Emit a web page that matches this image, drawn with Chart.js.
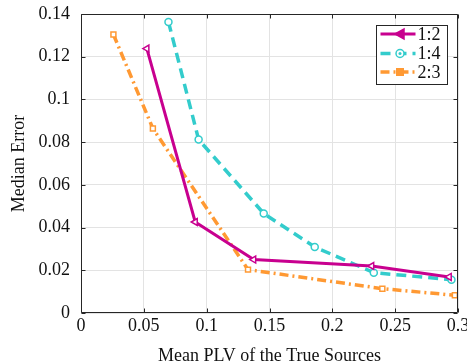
<!DOCTYPE html>
<html>
<head>
<meta charset="utf-8">
<script src="https://cdn.jsdelivr.net/npm/chart.js@4"></script>
<style>
  html, body { margin: 0; padding: 0; background: #ffffff; }
  #wrap { width: 467px; height: 364px; }
</style>
</head>
<body>
<div id="wrap"><canvas id="c" width="467" height="364"></canvas></div>
<script>
// ---- data ----
const seriesNames = ["1:2", "1:4", "2:3"];
const ratio12X = [0.0524, 0.0909, 0.1374, 0.2313, 0.2930];
const ratio12Y = [0.1238, 0.0426, 0.0250, 0.0220, 0.0169];
const ratio14X = [0.0696, 0.0936, 0.1454, 0.1860, 0.2330, 0.2948];
const ratio14Y = [0.1363, 0.0812, 0.0466, 0.0309, 0.0189, 0.0156];
const ratio23X = [0.0258, 0.0572, 0.1329, 0.2398, 0.2975];
const ratio23Y = [0.1304, 0.0864, 0.0203, 0.0114, 0.0083];
const xTickValues = [0, 0.05, 0.1, 0.15, 0.2, 0.25, 0.3];
const xTickLabels = ["0", "0.05", "0.1", "0.15", "0.2", "0.25", "0.3"];
const yTickValues = [0, 0.02, 0.04, 0.06, 0.08, 0.1, 0.12, 0.14];
const yTickLabels = ["0", "0.02", "0.04", "0.06", "0.08", "0.1", "0.12", "0.14"];
const xTitle = "Mean PLV of the True Sources";
const yTitle = "Median Error";

const COL12 = "#C8008F";
const COL14 = "#33CCCC";
const COL23 = "#FF9933";
const AXIS = "#262626";
const GRID = "#e3e3e3";
const FONT = "'Liberation Serif', 'Times New Roman', serif";

function pts(xs, ys) { return xs.map((x, i) => ({ x: x, y: ys[i] })); }

const styles = [
  { color: COL12, dash: [], point: 'triangle', rot: -90, width: 3 },
  { color: COL14, dash: [10, 6], point: 'circle', rot: 0, width: 3.5 },
  { color: COL23, dash: [9, 4, 2, 4], point: 'rect', rot: 0, width: 3.5 }
];

const frameAndLegend = {
  id: 'frameAndLegend',
  afterDraw(chart) {
    const ctx = chart.ctx;
    const a = chart.chartArea;
    const xs = chart.scales.x, ys = chart.scales.y;
    ctx.save();
    ctx.strokeStyle = AXIS;
    ctx.lineWidth = 1;
    const L = Math.round(a.left) + 0.5, R = Math.round(a.right) - 0.5;
    const T = Math.round(a.top) + 0.5, B = Math.round(a.bottom) - 0.5;
    ctx.beginPath();
    ctx.rect(L, T, R - L, B - T);
    ctx.stroke();
    const tl = 4;
    ctx.beginPath();
    xTickValues.forEach(v => {
      const px = Math.round(xs.getPixelForValue(v)) + 0.5;
      ctx.moveTo(px, B); ctx.lineTo(px, B - tl);
      ctx.moveTo(px, T); ctx.lineTo(px, T + tl);
    });
    yTickValues.forEach(v => {
      const py = Math.round(ys.getPixelForValue(v)) + 0.5;
      ctx.moveTo(L, py); ctx.lineTo(L + tl, py);
      ctx.moveTo(R, py); ctx.lineTo(R - tl, py);
    });
    ctx.stroke();

    // legend
    const bx = Math.round(a.right) - 82 + 0.5, by = Math.round(a.top) + 11 + 0.5;
    const bw = 71, bh = 59;
    ctx.fillStyle = '#ffffff';
    ctx.fillRect(bx, by, bw, bh);
    ctx.strokeStyle = AXIS;
    ctx.lineWidth = 1;
    ctx.strokeRect(bx, by, bw, bh);
    const rowY = [by + 8.5, by + 28, by + 46.5];
    chart.data.datasets.forEach((ds, i) => {
      const st = styles[i];
      const y0 = rowY[i];
      const x1 = bx + 4, x2 = bx + 39, xm = (x1 + x2) / 2 + 2;
      ctx.save();
      ctx.strokeStyle = st.color;
      ctx.lineWidth = st.width;
      ctx.setLineDash(st.dash);
      ctx.beginPath();
      ctx.moveTo(x1, y0); ctx.lineTo(x2, y0);
      ctx.stroke();
      ctx.restore();
      ctx.save();
      ctx.strokeStyle = st.color;
      ctx.fillStyle = st.color;
      ctx.lineWidth = 1.5;
      if (st.point === 'triangle') {
        ctx.beginPath();
        ctx.moveTo(xm - 5, y0); ctx.lineTo(xm + 4, y0 - 5); ctx.lineTo(xm + 4, y0 + 5); ctx.closePath();
        ctx.fill(); ctx.stroke();
      } else if (st.point === 'circle') {
        ctx.beginPath(); ctx.arc(xm, y0, 4, 0, Math.PI * 2);
        ctx.fillStyle = '#ffffff'; ctx.fill(); ctx.stroke();
        ctx.beginPath(); ctx.arc(xm, y0, 1.5, 0, Math.PI * 2); ctx.fillStyle = st.color; ctx.fill();
      } else {
        ctx.fillRect(xm - 4, y0 - 4, 8, 8);
      }
      ctx.restore();
      ctx.fillStyle = '#111111';
      ctx.font = "18px " + FONT;
      ctx.textAlign = 'left';
      ctx.textBaseline = 'middle';
      ctx.fillText(ds.label, bx + 41, y0 + 1);
    });
    ctx.restore();
  }
};

const datasets = [
  { label: seriesNames[0], data: pts(ratio12X, ratio12Y) },
  { label: seriesNames[1], data: pts(ratio14X, ratio14Y) },
  { label: seriesNames[2], data: pts(ratio23X, ratio23Y) }
].map((d, i) => Object.assign(d, {
  showLine: true,
  borderColor: styles[i].color,
  borderWidth: styles[i].width,
  borderDash: styles[i].dash,
  pointStyle: styles[i].point,
  rotation: styles[i].rot,
  pointRadius: styles[i].point === 'triangle' ? 4 : 3.5,
  pointBackgroundColor: '#ffffff',
  pointBorderColor: styles[i].color,
  pointBorderWidth: 1.5,
  tension: 0,
  fill: false
}));

new Chart(document.getElementById('c'), {
  type: 'scatter',
  data: { datasets: datasets },
  options: {
    responsive: false,
    animation: false,
    devicePixelRatio: 1,
    layout: { padding: { top: 14, right: 9, left: 0, bottom: 0 } },
    plugins: { legend: { display: false }, tooltip: { enabled: false } },
    scales: {
      x: {
        type: 'linear', min: 0, max: 0.3,
        afterBuildTicks: s => { s.ticks = xTickValues.map(v => ({ value: v })); },
        afterFit: s => { s.height = 51; s.paddingLeft = 0; s.paddingRight = 0; },
        ticks: {
          callback: (v, i) => xTickLabels[i],
          font: { family: FONT, size: 18 }, color: '#111111', padding: 2, maxRotation: 0, autoSkip: false
        },
        grid: { color: GRID, lineWidth: 1, drawTicks: false },
        border: { display: false },
        title: { display: true, text: xTitle, font: { family: FONT, size: 18, lineHeight: 1 }, color: '#111111', padding: { top: 0, bottom: -1 } }
      },
      y: {
        type: 'linear', min: 0, max: 0.14,
        afterBuildTicks: s => { s.ticks = yTickValues.map(v => ({ value: v })); },
        afterFit: s => { s.width = 81; s.paddingTop = 0; s.paddingBottom = 0; },
        ticks: {
          callback: (v, i) => yTickLabels[i],
          font: { family: FONT, size: 18 }, color: '#111111', padding: 11, autoSkip: false
        },
        grid: { color: GRID, lineWidth: 1, drawTicks: false },
        border: { display: false },
        title: { display: true, text: yTitle, font: { family: FONT, size: 18, lineHeight: 1 }, color: '#111111', padding: { top: 10, bottom: 0 } }
      }
    }
  },
  plugins: [frameAndLegend]
});
</script>
</body>
</html>
